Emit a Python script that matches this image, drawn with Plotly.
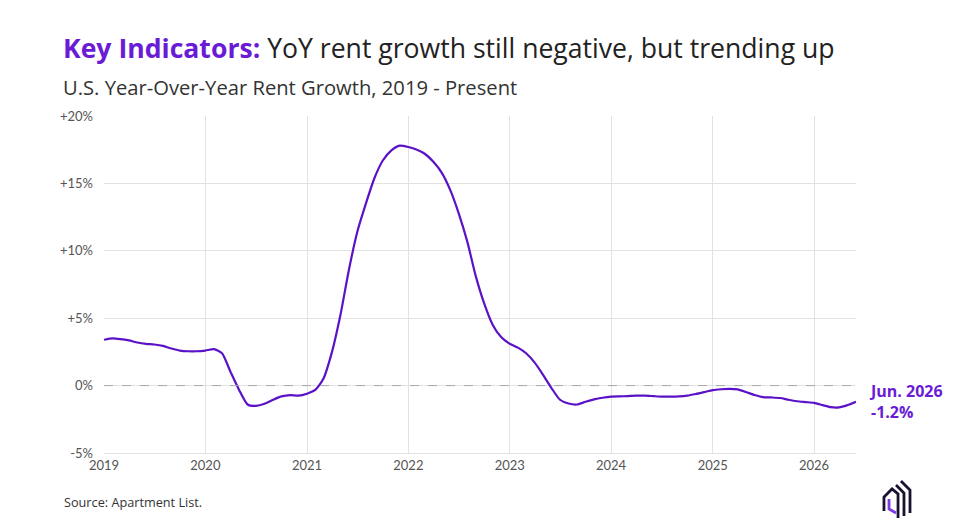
import plotly.graph_objects as go
import pandas as pd

# ---- data ----
start_month = "2019-01-01"
rent_growth = [
    3.4, 3.5, 3.45, 3.35, 3.2, 3.1, 3.05, 2.95, 2.75, 2.6, 2.55, 2.55,   # 2019
    2.6, 2.7, 2.4, 1.0, -0.3, -1.4, -1.5, -1.35, -1.05, -0.8, -0.7, -0.75,  # 2020
    -0.6, -0.3, 0.5, 2.5, 5.2, 8.6, 11.4, 13.5, 15.4, 16.7, 17.45, 17.8,  # 2021
    17.7, 17.5, 17.2, 16.6, 15.8, 14.5, 12.8, 10.7, 8.1, 6.1, 4.5, 3.6,   # 2022
    3.1, 2.8, 2.4, 1.7, 0.8, -0.2, -1.05, -1.33, -1.4, -1.2, -1.02, -0.9,  # 2023
    -0.82, -0.8, -0.78, -0.75, -0.74, -0.78, -0.82, -0.82, -0.8, -0.74, -0.62, -0.48,  # 2024
    -0.33, -0.27, -0.24, -0.28, -0.48, -0.7, -0.86, -0.88, -0.92, -1.05, -1.16, -1.22,  # 2025
    -1.28, -1.45, -1.6, -1.62, -1.45, -1.2,  # 2026
]
months = pd.date_range(start_month, periods=len(rent_growth), freq="MS")

y_tick_vals = [-5, 0, 5, 10, 15, 20]
y_tick_text = ["-5%", "0%", "+5%", "+10%", "+15%", "+20%"]
x_tick_vals = [f"{y}-01-01" for y in range(2019, 2027)]
x_tick_text = [str(y) for y in range(2019, 2027)]

last_label = "Jun. 2026"
last_value_text = "-1.2%"

PURPLE = "#5B12C6"
TITLE_PURPLE = "#6A1BD6"
FONT = "Lato"
HEAD_FONT = "Open Sans"

W, H = 980, 531
ML, MR, MT, MB = 104, 124, 116, 78
PW, PH = W - ML - MR, H - MT - MB


def px(x, y):
    return (x - ML) / PW, (H - MB - y) / PH


fig = go.Figure()
fig.add_trace(go.Scatter(
    x=months, y=rent_growth, mode="lines",
    line=dict(color=PURPLE, width=2.2, shape="spline", smoothing=0.6),
    hoverinfo="x+y", showlegend=False,
))

fig.add_shape(type="line", xref="paper", yref="y", x0=0, x1=1, y0=0, y1=0,
              line=dict(color="#a8a8a8", width=1, dash="dash"), layer="above")

# title & subtitle
tx, ty = px(61, 48)
fig.add_annotation(xref="paper", yref="paper", x=tx, y=ty, xanchor="left", yanchor="middle",
                   showarrow=False,
                   text=f"<b><span style='color:{TITLE_PURPLE}'>Key Indicators:</span></b> YoY rent growth still negative, but trending up",
                   font=dict(family=HEAD_FONT, size=26.6, color="#222222"))
sx, sy = px(61, 87)
fig.add_annotation(xref="paper", yref="paper", x=sx, y=sy, xanchor="left", yanchor="middle",
                   showarrow=False, text="U.S. Year-Over-Year Rent Growth, 2019 - Present",
                   font=dict(family=HEAD_FONT, size=20.2, color="#333333"))
# source
cx, cy = px(62, 502)
fig.add_annotation(xref="paper", yref="paper", x=cx, y=cy, xanchor="left", yanchor="middle",
                   showarrow=False, text="Source: Apartment List.",
                   font=dict(family=HEAD_FONT, size=12.7, color="#333333"))
# end label
fig.add_annotation(xref="x", yref="y", x=months[-1], y=rent_growth[-1], xanchor="left", yanchor="middle",
                   xshift=11, yshift=0, showarrow=False, align="left",
                   text=f"<b>{last_label}<br>{last_value_text}</b>",
                   font=dict(family=HEAD_FONT, size=16, color=TITLE_PURPLE))

# logo (decorative)
def path(points, color, width=2.8):
    pts = [px(*p) for p in points]
    d = "M " + " L ".join(f"{a:.4f},{b:.4f}" for a, b in pts)
    fig.add_shape(type="path", xref="paper", yref="paper", path=d,
                  line=dict(color=color, width=width))

path([(884, 511), (884, 497), (892, 489), (898, 494), (898, 518)], "#1b1030")
path([(896, 485), (904, 493), (904, 516)], "#1b1030")
path([(901, 481), (910, 490), (910, 513)], "#1b1030")
path([(889, 499), (889, 509), (896, 513)], "#7a3be0")

fig.update_layout(
    width=W, height=H,
    margin=dict(l=ML, r=MR, t=MT, b=MB),
    paper_bgcolor="white", plot_bgcolor="white",
    font=dict(family=FONT, color="#555555"),
    xaxis=dict(
        range=[months[0], months[-1]], tickvals=x_tick_vals, ticktext=x_tick_text,
        showgrid=True, gridcolor="#e2e2e2", gridwidth=1, zeroline=False,
        showline=True, linecolor="#e2e2e2", ticks="", tickfont=dict(size=13, color="#555555"),
    ),
    yaxis=dict(
        range=[-5, 20], tickvals=y_tick_vals, ticktext=y_tick_text,
        showgrid=True, gridcolor="#e2e2e2", gridwidth=1, zeroline=False,
        showline=False, ticks="", ticklabelstandoff=10, tickfont=dict(size=13, color="#555555"),
    ),
)

fig.write_html("out.html")
